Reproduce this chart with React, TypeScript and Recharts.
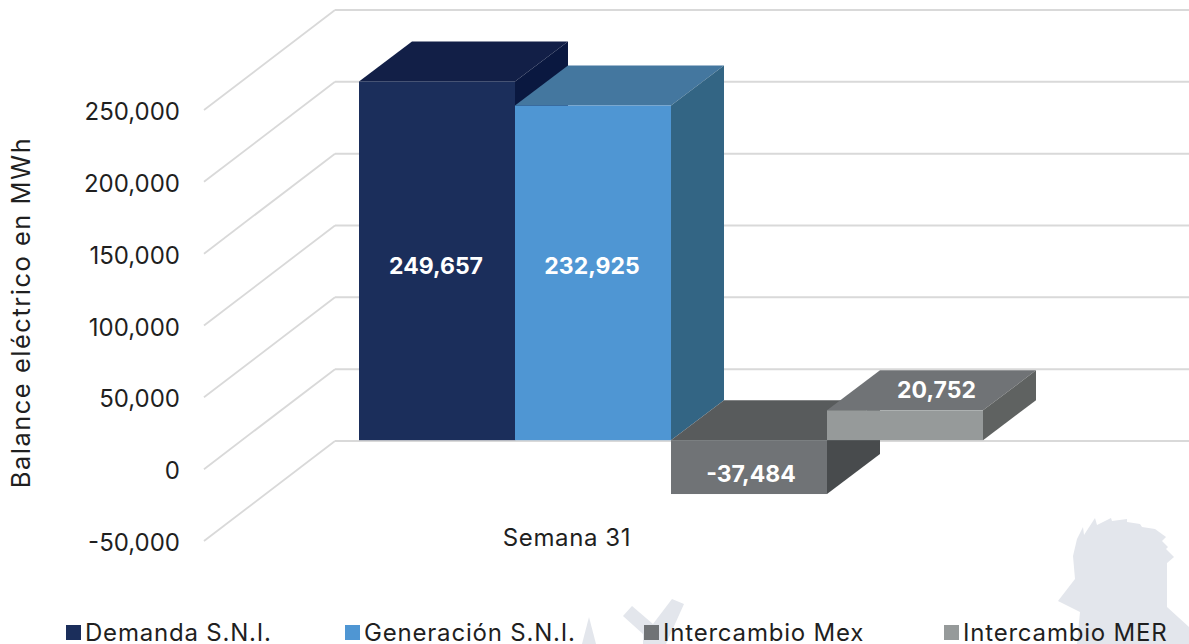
import { BarChart, Bar, XAxis, YAxis, CartesianGrid, Legend, LabelList } from "recharts";

const categories = ["Semana 31"];
const seriesNames = ["Demanda S.N.I.", "Generación S.N.I.", "Intercambio Mex", "Intercambio MER"];
const seriesValues = [249657, 232925, -37484, 20752];
const yTicks = [-50000, 0, 50000, 100000, 150000, 200000, 250000];

const frontColors = ["#1b2e5b", "#4f96d3", "#707376", "#969a9a"];
const topColors = ["#121f47", "#44779f", "#585b5c", "#707376"];
const sideColors = ["#0a1840", "#336584", "#484b4d", "#5f6261"];

const chartData = [
  Object.fromEntries([["name", categories[0]], ...seriesNames.map((n, i) => [n, seriesValues[i]])]),
];

// fake 3D: wall depth for the gridlines, bar depth and how far into the wall the bars stand
const WALL_X = 131;
const WALL_Y = 100;
const BAR_X = 53;
const BAR_Y = 40;
const SHIFT_X = 38;
const SHIFT_Y = 29;
const FONT = "Inter, sans-serif";
const TEXT = "#1f1f1f";

const fmt = (v: number) => v.toLocaleString("en-US");

function Bar3D(props: any) {
  const { x, y, width, height, index } = props;
  const x0 = x + SHIFT_X;
  const x1 = x0 + width;
  const top = Math.min(y, y + height) - SHIFT_Y;
  const bottom = Math.max(y, y + height) - SHIFT_Y;
  return (
    <g>
      <polygon
        points={`${x0},${top} ${x1},${top} ${x1 + BAR_X},${top - BAR_Y} ${x0 + BAR_X},${top - BAR_Y}`}
        fill={topColors[index]}
      />
      <polygon
        points={`${x1},${top} ${x1 + BAR_X},${top - BAR_Y} ${x1 + BAR_X},${bottom - BAR_Y} ${x1},${bottom}`}
        fill={sideColors[index]}
      />
      <rect x={x0} y={top} width={width} height={bottom - top} fill={frontColors[index]} />
    </g>
  );
}

function BarValue(props: any) {
  const { x, y, width, height, value } = props;
  const top = Math.min(y, y + height) - SHIFT_Y;
  const bottom = Math.max(y, y + height) - SHIFT_Y;
  const h = Math.abs(height);
  const mid = x + SHIFT_X + width / 2;
  let cx = mid + 2;
  let cy = top + h / 2 + 7;
  if (value > 0 && h < BAR_Y) {
    // short positive bars carry the number on their top face
    cx = mid + BAR_X / 2 + 5;
    cy = top - BAR_Y / 2;
  } else if (value > 0) {
    // tall bars share one label height, measured up from zero
    cx = mid - 1;
    cy = bottom - 174;
  }
  return (
    <text x={cx} y={cy} dy="0.35em" textAnchor="middle" fill="#ffffff" fontFamily={FONT} fontSize={23} fontWeight={700}>
      {fmt(value)}
    </text>
  );
}

function GridLine(props: any) {
  const { x1, x2, y1 } = props;
  return (
    <g>
      <line x1={x1} y1={y1} x2={x1 + WALL_X} y2={y1 - WALL_Y} stroke="#d9d9d9" strokeWidth={1.8} />
      <line x1={x1 + WALL_X} y1={y1 - WALL_Y} x2={x2 + WALL_X} y2={y1 - WALL_Y} stroke="#d9d9d9" strokeWidth={2} />
    </g>
  );
}

function CategoryTick(props: any) {
  const { x, y, payload } = props;
  return (
    <text x={x - 66} y={y} dy={3} textAnchor="middle" fill={TEXT} fontFamily={FONT} fontSize={24} letterSpacing={0.6}>
      {payload.value}
    </text>
  );
}

function ValueTick(props: any) {
  const { x, y, payload } = props;
  return (
    <text x={x} y={y} dy={10} textAnchor="end" fill={TEXT} fontFamily={FONT} fontSize={24}>
      {fmt(payload.value)}
    </text>
  );
}

function AxisTitle() {
  return (
    <text
      x={0}
      y={0}
      transform="translate(30 312.5) rotate(-90)"
      textAnchor="middle"
      fill={TEXT}
      fontFamily={FONT}
      fontSize={25.5}
      letterSpacing={1.5}
    >
      Balance eléctrico en MWh
    </text>
  );
}

const legendWidths = [279, 299, 300, 245];

function LegendRow() {
  return (
    <div style={{ position: "relative", top: 3, display: "flex", paddingLeft: 66, height: 30, width: 1189, alignItems: "center", fontFamily: FONT, fontSize: 24, letterSpacing: 0.8, color: TEXT, whiteSpace: "nowrap" }}>
      {seriesNames.map((n, i) => (
        <div key={n} style={{ display: "flex", alignItems: "center", gap: 4, width: legendWidths[i], flexShrink: 0 }}>
          <span style={{ width: 15, height: 15, background: frontColors[i], display: "inline-block", flexShrink: 0 }} />
          <span>{n}</span>
        </div>
      ))}
    </div>
  );
}

function Watermark() {
  return (
    <svg width={1189} height={644} style={{ position: "absolute", left: 0, top: 0 }}>
      <g fill="#e3e6ec">
        <polygon points="1058,601 1075,579 1073,556 1077,539 1083,527 1084,535 1095,518 1097,525 1111,518 1112,521 1127,519 1127,522 1140,524 1142,527 1155,529 1166,537 1162,541 1168,547 1166,549 1174,557 1167,563 1167,607 1189,627 1189,644 1077,644 1080,612" />
        <polygon points="623,616 632,606 653,624 672,599 684,604 666,644 643,644 643,634" />
        <polygon points="589,617 596,644 582,644" />
      </g>
    </svg>
  );
}

export default function App() {
  return (
    <div style={{ position: "absolute", left: 0, top: 0, width: 1189, height: 644, overflow: "hidden", background: "#ffffff" }}>
      <Watermark />
      <div style={{ position: "absolute", left: 0, top: 0 }}>
        <BarChart
          width={1189}
          height={644}
          data={chartData}
          margin={{ top: 110, right: 127, bottom: 0, left: 0 }}
          barSize={156}
          barGap={0}
        >
          <CartesianGrid vertical={false} horizontal={GridLine as any} />
          <XAxis dataKey="name" axisLine={false} tickLine={false} tickSize={0} height={73} tick={CategoryTick as any} interval={0} />
          <YAxis
            width={204}
            domain={[-50000, 250000]}
            ticks={yTicks}
            axisLine={false}
            tickLine={false}
            tickSize={0}
            tickMargin={24}
            tick={ValueTick as any}
            label={AxisTitle as any}
          />
          <Legend verticalAlign="bottom" height={30} content={LegendRow as any} />
          {seriesNames.map((n, i) => (
            <Bar
              key={n}
              dataKey={n}
              isAnimationActive={false}
              shape={(p: any) => <Bar3D {...p} index={i} />}
            >
              <LabelList dataKey={n} content={BarValue as any} />
            </Bar>
          ))}
        </BarChart>
      </div>
    </div>
  );
}
